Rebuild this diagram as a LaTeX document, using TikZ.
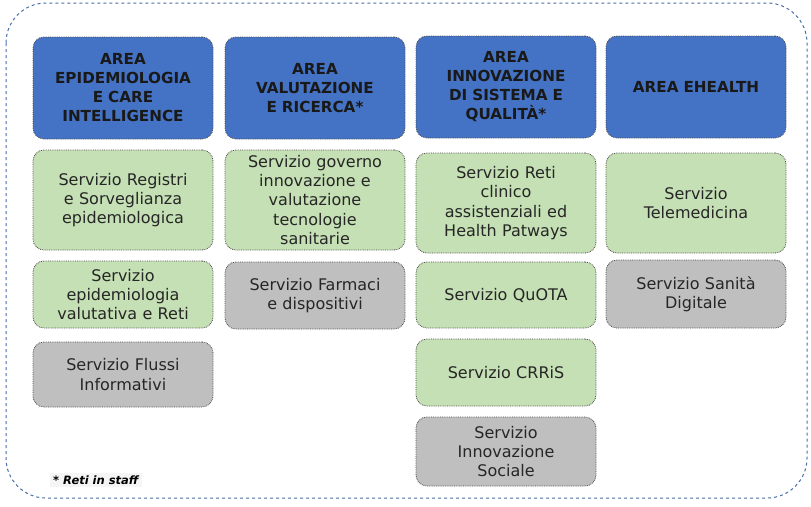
\documentclass[tikz,border=0pt]{standalone}
\usepackage{fontspec}
\setmainfont{DejaVu Sans}
\usetikzlibrary{positioning}

\definecolor{areablue}{HTML}{4472C4}
\definecolor{servgreen}{HTML}{C5E0B4}
\definecolor{servgrey}{HTML}{BFBFBF}
\definecolor{frameblue}{HTML}{4A6FA8}

\tikzset{
  box/.style={draw=black!70, densely dotted, line width=0.8pt, rounded corners=11pt,
              align=center, inner sep=2pt, minimum width=179pt, text width=176pt},
  areabox/.style={box, fill=areablue, text=black!90,
                  font=\fontsize{15.2}{19}\selectfont\bfseries, minimum height=102pt},
  greenbox/.style={box, fill=servgreen, text=black!85, font=\fontsize{16}{19.3}\selectfont},
  greybox/.style={box, fill=servgrey, text=black!85, font=\fontsize{16}{19.3}\selectfont}
}

\begin{document}
\begin{tikzpicture}[x=1pt,y=-1pt]
              \useasboundingbox (0,0) rectangle (811,506);
              \fill[white] (0,0) rectangle (811,506);
              % outer frame
              \draw[frameblue, dashed, line width=1pt, rounded corners=40pt] (6,3) rectangle (807,498);

              % areas
              \node[areabox] (aepi) at (123,88) {AREA\\EPIDEMIOLOGIA\\E CARE\\INTELLIGENCE};
              \node[areabox] (aval) at (315,88) {AREA\\VALUTAZIONE\\E RICERCA*};
              \node[areabox] (ainn) at (506,87) {AREA\\INNOVAZIONE\\DI SISTEMA E\\QUALITÀ*};
              \node[areabox] (aeh) at (696,87) {AREA EHEALTH};

              % column 1
              \node[greenbox, minimum height=100pt] (registri) at (123,200) {Servizio Registri\\e Sorveglianza\\epidemiologica};
              \node[greenbox, minimum height=67pt] (epival) at (123,294.5) {Servizio\\epidemiologia\\valutativa e Reti};
              \node[greybox, minimum height=65pt] (flussi) at (123,374.5) {Servizio Flussi\\Informativi};

              % column 2
              \node[greenbox, minimum height=100pt] (governo) at (315,200) {Servizio governo\\innovazione e\\valutazione\\tecnologie\\sanitarie};
              \node[greybox, minimum height=67pt] (farmaci) at (315,295.5) {Servizio Farmaci\\e dispositivi};

              % column 3
              \node[greenbox, minimum height=100pt] (reti) at (506,203) {Servizio Reti\\clinico\\assistenziali ed\\Health Patways};
              \node[greenbox, minimum height=66pt] (quota) at (506,295) {Servizio QuOTA};
              \node[greenbox, minimum height=67pt] (crris) at (506,372.5) {Servizio CRRiS};
              \node[greybox, minimum height=69pt] (sociale) at (506,451.5) {Servizio\\Innovazione\\Sociale};

              % column 4
              \node[greenbox, minimum height=100pt] (telemed) at (696,203) {Servizio\\Telemedicina};
              \node[greybox, minimum height=68pt] (digitale) at (696,294) {Servizio Sanità\\Digitale};

              \node[anchor=west, fill=black!4, inner sep=3pt, font=\fontsize{11.5}{13}\selectfont\bfseries\itshape] (nota) at (50,480) {* Reti in staff};
\end{tikzpicture}
\end{document}
